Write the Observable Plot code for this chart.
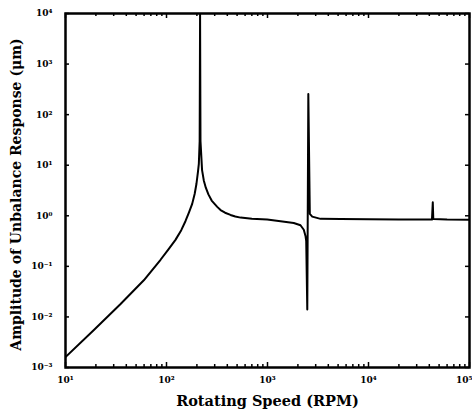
<!DOCTYPE html>
<html><head><meta charset="utf-8">
<script src="https://cdn.jsdelivr.net/npm/d3@7"></script>
<script src="https://cdn.jsdelivr.net/npm/@observablehq/plot@0.6"></script>
<style>body{margin:0;background:#fff}</style>
</head><body><div id="chart"></div>
<script>
const speed = [10, 19.1, 35.1, 59.6, 87.3, 105, 122.7, 140, 154, 167, 179.6, 190, 198, 205, 209, 213, 215, 217, 225, 234, 245, 260, 280, 318, 343, 380, 430, 480, 541, 700, 993, 1346, 1820, 2122, 2287, 2378, 2417, 2477, 2536, 2625, 2773, 3350, 5300, 10000, 20000, 42500, 43300, 43800, 60000, 100000];
const amplitude = [0.00161, 0.0055, 0.018, 0.053, 0.135, 0.22, 0.334, 0.52, 0.78, 1.17, 1.72, 2.7, 4.3, 7.5, 10.6, 30, 10000, 30, 8, 5.0, 3.6, 2.65, 2.0, 1.5, 1.3, 1.15, 1.04, 0.97, 0.92, 0.87, 0.84, 0.78, 0.72, 0.65, 0.53, 0.40, 0.32, 0.014, 257, 1.09, 0.964, 0.869, 0.86, 0.85, 0.84, 0.84, 1.85, 0.86, 0.84, 0.83];
const xDecades = [10, 100, 1000, 10000, 100000];
const yDecades = [1e-3, 1e-2, 1e-1, 1, 10, 100, 1000, 10000];
const xTitle = "Rotating Speed (RPM)";
const yTitle = "Amplitude of Unbalance Response (μm)";

const xMinor = [];
for (let k = 1; k <= 4; k++) for (let m = 2; m <= 9; m++) xMinor.push(m * Math.pow(10, k));

const sup = {"-": "⁻", "0": "⁰", "1": "¹", "2": "²", "3": "³", "4": "⁴", "5": "⁵", "6": "⁶", "7": "⁷", "8": "⁸", "9": "⁹"};
const fmt = d => "10" + String(Math.round(Math.log10(d))).split("").map(c => sup[c]).join("");

const W = 472, H = 416, mL = 65, mR = 3, mT = 13, mB = 49;
const pw = W - mL - mR, ph = H - mT - mB;
const data = speed.map((s, i) => ({s, a: amplitude[i]}));

const chart = Plot.plot({
  width: W, height: H,
  marginLeft: mL, marginRight: mR, marginTop: mT, marginBottom: mB,
  style: {fontFamily: "'DejaVu Serif', serif", fontWeight: "bold", background: "white", color: "black"},
  x: {type: "log", domain: [10, 1e5]},
  y: {type: "log", domain: [1e-3, 1e4]},
  marks: [
    Plot.axisX(xDecades.slice(0, 4), {tickSize: 0, tickPadding: 9, tickFormat: fmt, fontSize: 9, label: null}),
    Plot.axisX(xDecades.slice(4), {tickSize: 0, tickPadding: 9, tickFormat: fmt, fontSize: 9, label: null, textAnchor: "end", dx: 3}),
    Plot.axisY(yDecades, {tickSize: 0, tickPadding: 13, tickFormat: fmt, fontSize: 9, label: null}),
    Plot.ruleX(xDecades, {x: d => d, insetTop: ph - 5, strokeWidth: 1.5}),
    Plot.ruleX(xDecades, {x: d => d, insetBottom: ph - 5, strokeWidth: 1.5}),
    Plot.ruleX(xMinor, {x: d => d, insetTop: ph - 3, strokeWidth: 1.5}),
    Plot.ruleX(xMinor, {x: d => d, insetBottom: ph - 3, strokeWidth: 1.5}),
    Plot.ruleY(yDecades, {y: d => d, insetRight: pw - 4, strokeWidth: 1.5}),
    Plot.ruleY(yDecades, {y: d => d, insetLeft: pw - 4, strokeWidth: 1.5}),
    Plot.line(data, {x: "s", y: "a", stroke: "black", strokeWidth: 2, clip: true}),
    Plot.frame({stroke: "black", strokeWidth: 2.5}),
    Plot.text([xTitle], {text: d => d, frameAnchor: "bottom", dy: 38, fontSize: 14.5}),
    Plot.text([yTitle], {text: d => d, frameAnchor: "left", textAnchor: "middle", rotate: -90, dx: -49, dy: 4, fontSize: 14})
  ]
});
document.getElementById("chart").appendChild(chart);
</script>
</body></html>
